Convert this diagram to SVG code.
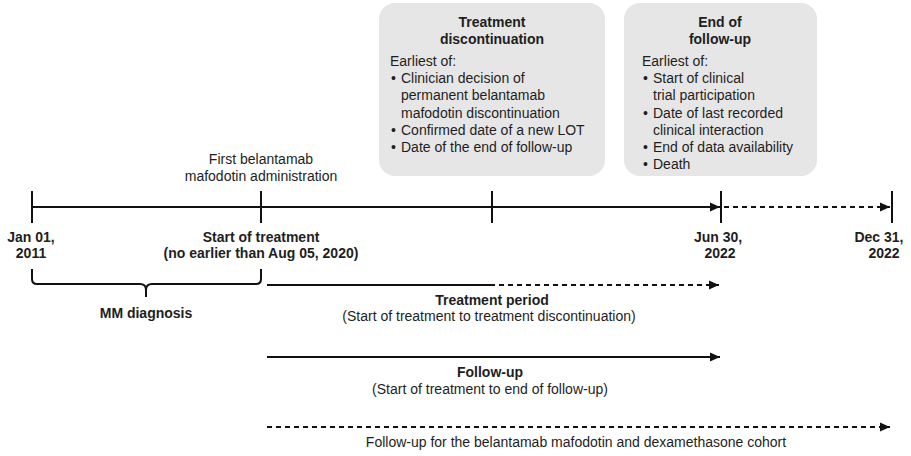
<svg xmlns="http://www.w3.org/2000/svg" width="911" height="456" viewBox="0 0 911 456">
<style>
text{font-family:"Liberation Sans",Arial,sans-serif;font-size:14px;fill:#1e1e1e}
.b{font-weight:bold}
.m{text-anchor:middle}
.box{fill:#e6e6e6}
.ln{stroke:#111;stroke-width:2;fill:none}
.d{stroke-dasharray:5 4}
</style>
<defs>
<marker id="ah" markerUnits="userSpaceOnUse" markerWidth="10" markerHeight="10" refX="10" refY="5" orient="auto">
<path d="M0,0.5 L10,5 L0,9.5 z" fill="#111"/>
</marker>
</defs>
<g id="box-discontinuation">
<rect class="box" x="379" y="3" width="226" height="173" rx="16"/>
<text class="b m" x="492" y="27">Treatment</text>
<text class="b m" x="492" y="44">discontinuation</text>
<text x="390" y="66">Earliest of:</text>
<text x="391" y="83">•</text><text x="401" y="83">Clinician decision of</text>
<text x="401" y="100">permanent belantamab</text>
<text x="401" y="118">mafodotin discontinuation</text>
<text x="391" y="135">•</text><text x="401" y="135">Confirmed date of a new LOT</text>
<text x="391" y="152">•</text><text x="401" y="152">Date of the end of follow-up</text>
</g>
<g id="box-end-followup">
<rect class="box" x="624" y="3" width="193" height="173" rx="16"/>
<text class="b m" x="720" y="27">End of</text>
<text class="b m" x="720" y="44">follow-up</text>
<text x="642" y="66">Earliest of:</text>
<text x="643" y="83">•</text><text x="653" y="83">Start of clinical</text>
<text x="653" y="100">trial participation</text>
<text x="643" y="118">•</text><text x="653" y="118">Date of last recorded</text>
<text x="653" y="135">clinical interaction</text>
<text x="643" y="152">•</text><text x="653" y="152">End of data availability</text>
<text x="643" y="169">•</text><text x="653" y="169">Death</text>
</g>
<g id="first-admin">
<text class="m" x="261" y="164">First belantamab</text>
<text class="m" x="261" y="181">mafodotin administration</text>
</g>
<g id="connectors">
<line class="ln" x1="32" y1="207" x2="720" y2="207" marker-end="url(#ah)"/>
<line class="ln d" x1="724" y1="207" x2="890" y2="207" marker-end="url(#ah)"/>
<line class="ln" x1="32" y1="191" x2="32" y2="223"/>
<line class="ln" x1="261" y1="191" x2="261" y2="223"/>
<line class="ln" x1="492" y1="191" x2="492" y2="223"/>
<line class="ln" x1="721" y1="191" x2="721" y2="223"/>
<line class="ln" x1="892" y1="191" x2="892" y2="223"/>
<path class="ln" d="M32,269 L32,279 Q32,284 37,284 L140,284 Q146,284 146,290 L146,297 M146,290 Q146,284 152,284 L256,284 Q261,284 261,279 L261,269"/>
<line class="ln" x1="267" y1="285" x2="495" y2="285"/>
<line class="ln d" x1="499" y1="285" x2="719" y2="285" marker-end="url(#ah)"/>
<line class="ln" x1="267" y1="357" x2="720" y2="357" marker-end="url(#ah)"/>
<line class="ln d" x1="267" y1="427" x2="890" y2="427" marker-end="url(#ah)"/>
</g>
<g id="labels">
<text class="b m" x="31" y="242">Jan 01,</text>
<text class="b m" x="31" y="258">2011</text>
<text class="b m" x="261" y="242">Start of treatment</text>
<text class="b m" x="261" y="258">(no earlier than Aug 05, 2020)</text>
<text class="b m" x="718" y="242">Jun 30,</text>
<text class="b m" x="720" y="258">2022</text>
<text class="b m" x="879" y="242">Dec 31,</text>
<text class="b m" x="884" y="258">2022</text>
<text class="b m" x="146" y="318">MM diagnosis</text>
<text class="b m" x="492" y="305">Treatment period</text>
<text class="m" x="489" y="321">(Start of treatment to treatment discontinuation)</text>
<text class="b m" x="490" y="377">Follow-up</text>
<text class="m" x="490" y="394">(Start of treatment to end of follow-up)</text>
<text class="m" x="576" y="447">Follow-up for the belantamab mafodotin and dexamethasone cohort</text>
</g>
</svg>
